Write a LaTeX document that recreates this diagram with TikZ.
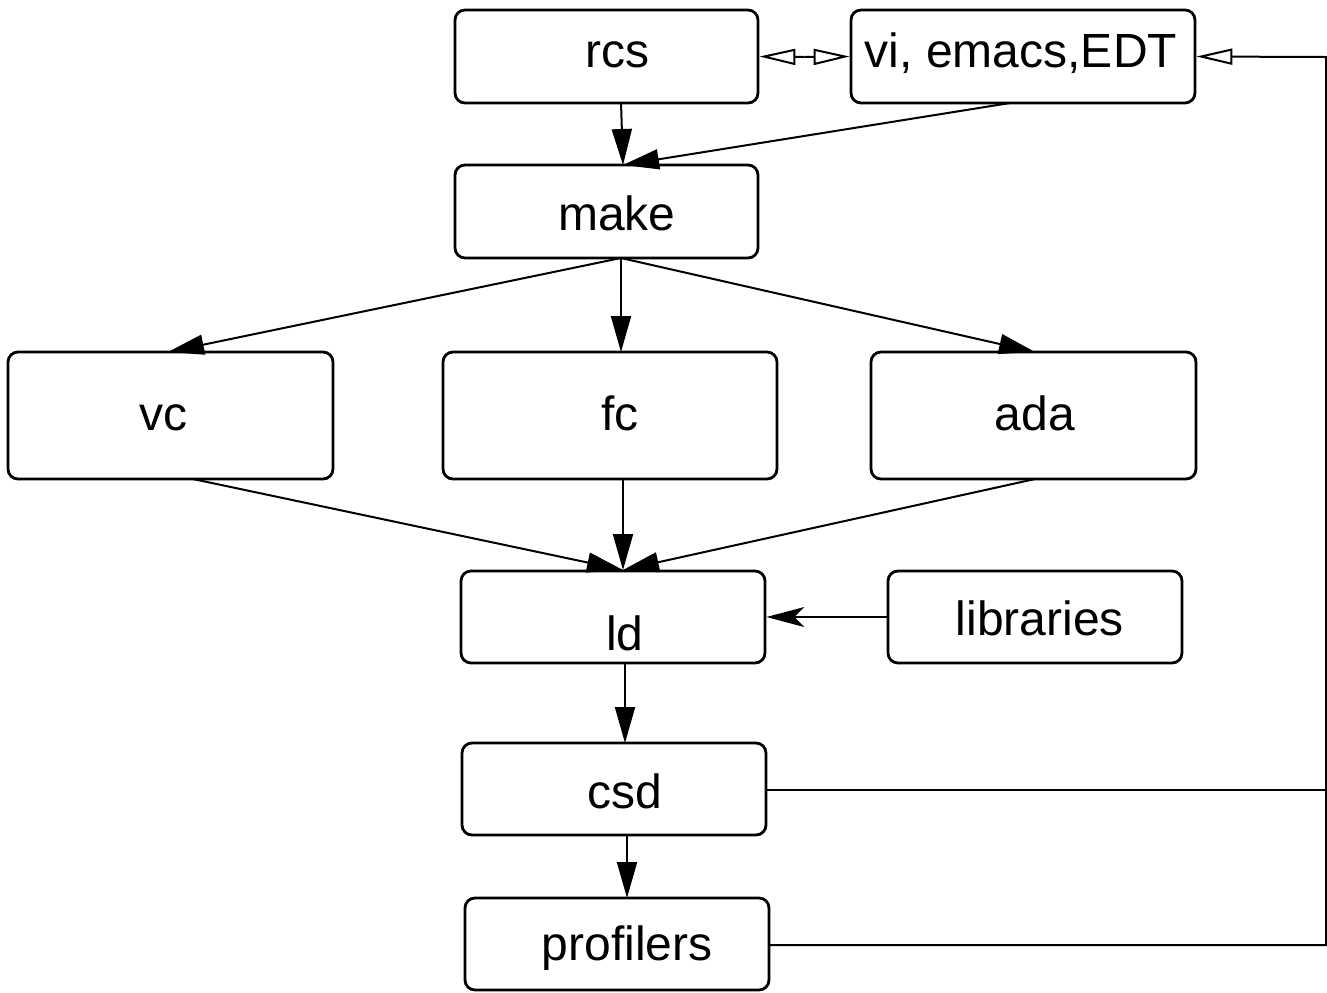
\documentclass[tikz,border=0pt]{standalone}
\usepackage{fontspec}
\setmainfont{Liberation Sans}
\usetikzlibrary{arrows.meta}
\begin{document}
\begin{tikzpicture}[x=0.5pt,y=-0.5pt,
  box/.style={draw,line width=1.4pt,rounded corners=5pt,inner sep=0pt},
  lbl/.style={font=\fontsize{24}{28}\selectfont,inner sep=0pt},
  conn/.style={line width=1pt},
  hollow/.style={-{Triangle[length=18pt,width=10pt]}},
  opentip/.style={-{Triangle[open,length=18pt,width=8pt]}},
  solidtip/.style={-{Stealth[length=19pt,width=10pt,inset=5pt]}}]
\useasboundingbox (0,0) rectangle (1327,992);

% boxes, given by their corners
\node[box,minimum width=303pt*0.5,minimum height=93pt*0.5] (rcs) at (606.5,56.5) {};
\node[box,minimum width=344pt*0.5,minimum height=93pt*0.5] (ed) at (1023,56.5) {};
\node[box,minimum width=303pt*0.5,minimum height=93pt*0.5] (make) at (606.5,211.5) {};
\node[box,minimum width=325pt*0.5,minimum height=127pt*0.5] (vc) at (170.5,415.5) {};
\node[box,minimum width=334pt*0.5,minimum height=127pt*0.5] (fc) at (610,415.5) {};
\node[box,minimum width=325pt*0.5,minimum height=127pt*0.5] (ada) at (1033.5,415.5) {};
\node[box,minimum width=304pt*0.5,minimum height=92pt*0.5] (ld) at (613,617) {};
\node[box,minimum width=294pt*0.5,minimum height=92pt*0.5] (lib) at (1035,617) {};
\node[box,minimum width=304pt*0.5,minimum height=92pt*0.5] (csd) at (614,789) {};
\node[box,minimum width=304pt*0.5,minimum height=92pt*0.5] (prof) at (617,944) {};

% labels
\node[lbl] (trcs) at (617,55) {rcs};
\node[lbl] (ted) at (1021,53) {vi, emacs,EDT};
\node[lbl] (tmake) at (617,213) {make};
\node[lbl] (tvc) at (163,418) {vc};
\node[lbl] (tfc) at (620,413) {fc};
\node[lbl] (tada) at (1035,413) {ada};
\node[lbl] (tld) at (625,633) {ld};
\node[lbl] (tlib) at (1040,618) {libraries};
\node[lbl] (tcsd) at (625,791) {csd};
\node[lbl] (tprof) at (627,948) {profilers};

% meeting points of the connectors
\coordinate (mid) at (804.5,57);
\coordinate (rcsB) at (621,103);
\coordinate (makeT) at (623,165);
\coordinate (edB) at (1010,103);
\coordinate (makeB) at (621,258);
\coordinate (vcT) at (168,352);
\coordinate (fcT) at (621,352);
\coordinate (adaT) at (1035,352);
\coordinate (vcB) at (193,479);
\coordinate (fcB) at (623,479);
\coordinate (adaB) at (1035,479);
\coordinate (ldT) at (623,570);
\coordinate (ldB) at (625,663);
\coordinate (csdT) at (625,743);
\coordinate (csdB) at (627,835);
\coordinate (profT) at (627,898);
\coordinate (csdR) at (766,790);
\coordinate (profR) at (769,945);
\coordinate (edge1) at (1326,790);
\coordinate (edge2) at (1326,945);
\coordinate (edgeTop) at (1326,57);

% connectors
\draw[conn,opentip] (mid) -- (rcs.east);
\draw[conn,opentip] (mid) -- (ed.west);
\draw[conn,hollow] (rcsB) -- (makeT);
\draw[conn,hollow] (edB) -- (makeT);
\draw[conn,hollow] (makeB) -- (vcT);
\draw[conn,hollow] (makeB) -- (fcT);
\draw[conn,hollow] (makeB) -- (adaT);
\draw[conn,hollow] (vcB) -- (ldT);
\draw[conn,hollow] (fcB) -- (ldT);
\draw[conn,hollow] (adaB) -- (ldT);
\draw[conn,solidtip] (lib.west) -- (ld.east);
\draw[conn,hollow] (ldB) -- (csdT);
\draw[conn,hollow] (csdB) -- (profT);
\draw[conn] (csdR) -- (edge1);
\draw[conn,opentip] (profR) -- (edge2) -- (edgeTop) -- (ed.east);
\end{tikzpicture}
\end{document}
